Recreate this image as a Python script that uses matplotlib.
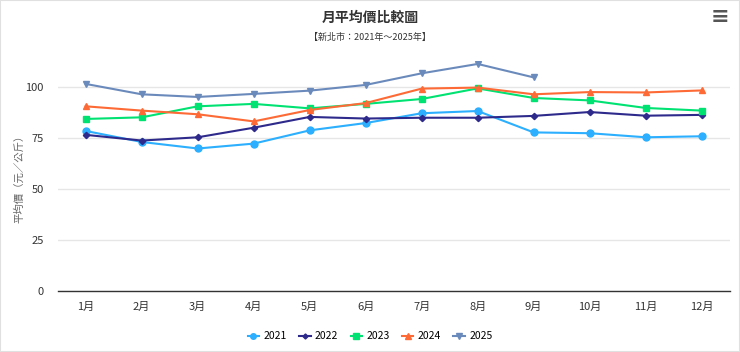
import matplotlib.pyplot as plt
from matplotlib.lines import Line2D

plt.rcParams['font.family'] = ['Noto Sans CJK TC', 'DejaVu Sans']

# -------------------------------------------------------------
# Datos: precio promedio mensual (元／公斤), 新北市 2021~2025
# -------------------------------------------------------------
meses = ["1月", "2月", "3月", "4月", "5月", "6月",
         "7月", "8月", "9月", "10月", "11月", "12月"]

p2021 = [78.6, 73.2, 70.0, 72.4, 78.9, 82.5, 87.3, 88.4, 77.9, 77.5, 75.5, 76.0]
p2022 = [76.7, 73.9, 75.5, 80.2, 85.5, 84.7, 85.1, 85.1, 86.0, 87.9, 86.1, 86.5]
p2023 = [84.5, 85.3, 90.7, 91.9, 89.7, 91.9, 94.3, 99.5, 94.8, 93.6, 89.9, 88.6]
p2024 = [90.7, 88.6, 86.8, 83.3, 88.9, 92.3, 99.4, 99.9, 96.6, 97.7, 97.5, 98.5]
p2025 = [101.7, 96.6, 95.3, 96.8, 98.4, 101.2, 106.9, 111.5, 104.9]

series = [
    ("2021", p2021, "#2caffe", "o", 5),
    ("2022", p2022, "#2e2a8c", "D", 3.2),
    ("2023", p2023, "#00e272", "s", 4.6),
    ("2024", p2024, "#fe6a35", "^", 4.8),
    ("2025", p2025, "#6b8abc", "v", 4.8),
]

fig = plt.figure(figsize=(7.4, 3.52), dpi=100)
ax = fig.add_axes([0.078, 0.173, 0.908, 0.654])

x = list(range(len(meses)))
for nombre, valores, color, marcador, ms in series:
    ax.plot(x[:len(valores)], valores, color=color, marker=marcador,
            markersize=ms, linewidth=1.5, label=nombre, zorder=3)

ax.set_xlim(-0.5, len(meses) - 0.5)
ax.set_ylim(0, 113)
ax.set_yticks([0, 25, 50, 75, 100])
ax.set_xticks(x)
ax.set_xticklabels(meses)
ax.tick_params(axis="both", length=0, labelsize=8, colors="#333333")
ax.tick_params(axis="x", pad=8)
ax.tick_params(axis="y", pad=10)
ax.grid(axis="y", color="#e6e6e6", linewidth=1)
ax.set_axisbelow(True)
for lado in ["top", "right", "left"]:
    ax.spines[lado].set_visible(False)
ax.spines["bottom"].set_color("#333333")
ax.spines["bottom"].set_linewidth(1)

ax.set_ylabel("平均價（元／公斤）", fontsize=7.5, color="#666666", labelpad=1)

fig.text(0.5, 0.950, "月平均價比較圖", ha="center", va="center",
         fontsize=10, fontweight="bold", color="#333333")
fig.text(0.5, 0.893, "【新北市：2021年～2025年】", ha="center", va="center",
         fontsize=6.5, color="#333333")
fig.text(0.973, 0.953, "≡", ha="center", va="center", fontsize=16,
         fontweight="bold", color="#555555", family=["DejaVu Sans"])

handles = [Line2D([0], [0], color=c, marker=m, markersize=ms * 0.8, linewidth=1.5)
           for _, _, c, m, ms in series]
fig.legend(handles, [s[0] for s in series], loc="center",
           bbox_to_anchor=(0.5, 0.045), ncol=5, frameon=False, fontsize=7.5,
           handlelength=1.1, columnspacing=1.2, handletextpad=0.4)

fig.patches.append(plt.Rectangle((0, 0), 1, 1, transform=fig.transFigure,
                                 fill=False, edgecolor="#e0e0e0", linewidth=1.5))

fig.savefig("out.png", dpi=100)
